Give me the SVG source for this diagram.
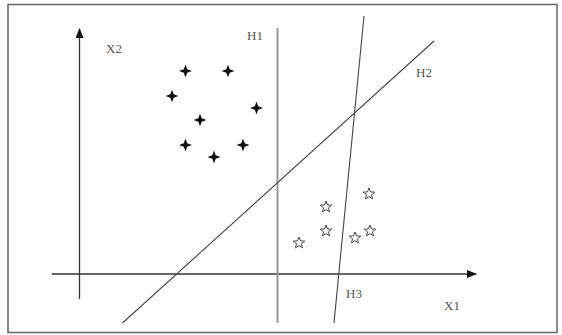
<svg xmlns="http://www.w3.org/2000/svg" xmlns:xlink="http://www.w3.org/1999/xlink" width="562" height="335" viewBox="0 0 562 335">
<style>
.lbl{font-family:"Liberation Serif",serif;font-size:13px;fill:#555}
.ax{stroke:#333;stroke-width:1.3;fill:none}
.ln{stroke:#444;stroke-width:1.1;fill:none}
.h1{stroke:#999;stroke-width:2;fill:none}
.plus{fill:#111}
.star{fill:#fff;stroke:#444;stroke-width:1}
</style>
<defs>
<marker id="arr" markerWidth="10" markerHeight="8" refX="9" refY="4" orient="auto" markerUnits="userSpaceOnUse">
<path d="M0,0 L10,4 L0,8 Z" fill="#111"/>
</marker>
<path id="p" d="M0,-6.5 L1.7,-1.7 L6.5,0 L1.7,1.7 L0,6.5 L-1.7,1.7 L-6.5,0 L-1.7,-1.7 Z"/>
<path id="s" d="M0,-6 L1.53,-2.1 L5.71,-1.85 L2.47,0.8 L3.53,4.85 L0,2.6 L-3.53,4.85 L-2.47,0.8 L-5.71,-1.85 L-1.53,-2.1 Z"/>
</defs>
<rect x="0" y="0" width="562" height="335" fill="#fff"/>
<rect id="frame" x="8" y="4.5" width="549" height="328" fill="none" stroke="#666" stroke-width="1.5"/>
<g id="connectors">
<line class="ax" x1="79.5" y1="299" x2="79.5" y2="29" marker-end="url(#arr)"/>
<line class="ax" x1="52" y1="274" x2="476" y2="274" marker-end="url(#arr)"/>
<line id="H1line" class="h1" x1="277.5" y1="28" x2="277.5" y2="323"/>
<line id="H2line" class="ln" x1="122.5" y1="323" x2="434" y2="41"/>
<line id="H3line" class="ln" x1="364" y1="16" x2="334" y2="323"/>
</g>
<g id="labels">
<text class="lbl" x="106" y="53">X2</text>
<text class="lbl" x="247" y="40">H1</text>
<text class="lbl" x="416" y="77">H2</text>
<text class="lbl" x="346" y="298">H3</text>
<text class="lbl" x="444" y="310">X1</text>
</g>
<g id="plus-class" class="plus">
<use xlink:href="#p" x="185.5" y="71"/>
<use xlink:href="#p" x="228" y="71"/>
<use xlink:href="#p" x="172" y="96"/>
<use xlink:href="#p" x="256.5" y="108"/>
<use xlink:href="#p" x="200" y="120"/>
<use xlink:href="#p" x="185.5" y="145"/>
<use xlink:href="#p" x="243" y="145"/>
<use xlink:href="#p" x="214" y="157"/>
</g>
<g id="star-class" class="star">
<use xlink:href="#s" x="369" y="194"/>
<use xlink:href="#s" x="326" y="207"/>
<use xlink:href="#s" x="326" y="231"/>
<use xlink:href="#s" x="299" y="243"/>
<use xlink:href="#s" x="355" y="238"/>
<use xlink:href="#s" x="370" y="231"/>
</g>
</svg>
